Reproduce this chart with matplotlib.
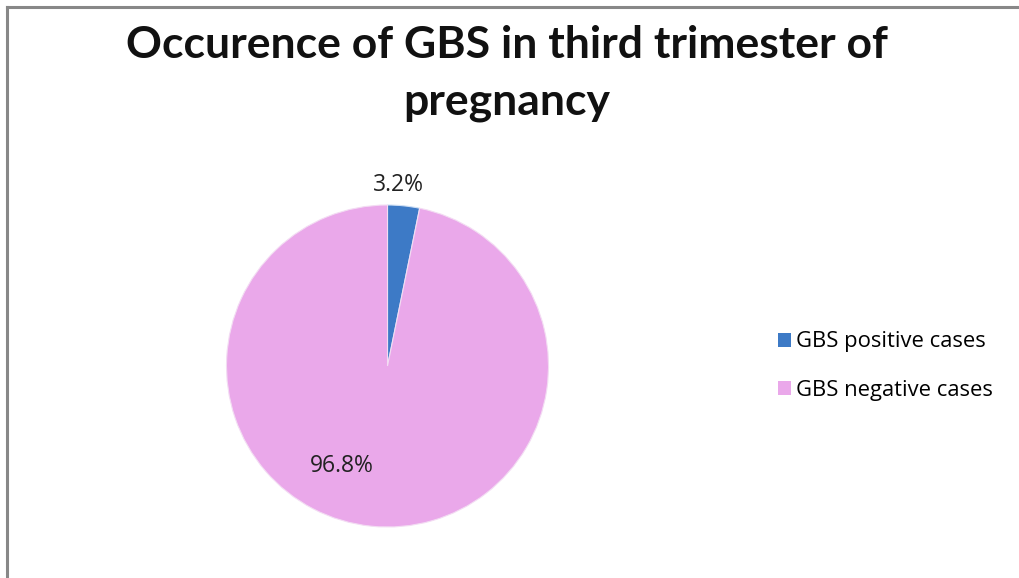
import matplotlib
matplotlib.use("Agg")
import matplotlib.pyplot as plt
from matplotlib.lines import Line2D
from matplotlib.patches import Patch
import numpy as np

# data
labels = ["GBS positive cases", "GBS negative cases"]
values = [3.2, 96.8]
pct_text = ["3.2%", "96.8%"]
colors = ["#3D7AC6", "#EAA8EA"]
title_lines = ["Occurence of GBS in third trimester of", "pregnancy"]

W, H = 1020, 578
fig = plt.figure(figsize=(W / 100, H / 100), dpi=100)
fig.patch.set_facecolor("white")

# chart frame (only top and left edge visible)
fig.add_artist(Line2D([7 / W, 7 / W], [0, 1 - 7 / H], color="#888888", lw=2.2))
fig.add_artist(Line2D([7 / W, 1], [1 - 7 / H, 1 - 7 / H], color="#888888", lw=2.2))

# title, two lines placed on their baselines
for line, base in zip(title_lines, [58, 114]):
    fig.text(507 / W, 1 - base / H, line, ha="center", va="baseline",
             fontsize=32, fontweight="bold", family="Lato", color="#111111")

# pie area
cx, cy, r = 387.5, 366, 161
ax = fig.add_axes([(cx - r) / W, 1 - (cy + r) / H, 2 * r / W, 2 * r / H])
wedges, _ = ax.pie(values, colors=colors, startangle=90, counterclock=False,
                   radius=1.0, wedgeprops=dict(edgecolor="#f3dcf3", linewidth=0.8))
wedges[0].set_edgecolor("#cfe0f5")
ax.set_xlim(-1, 1)
ax.set_ylim(-1, 1)
ax.set_aspect("auto")
ax.axis("off")

# label placement: (angle in degrees, radius)
label_pos = [(86.5, 1.125), (-114.5, 0.68)]
for txt, (ang, rad) in zip(pct_text, label_pos):
    a = np.deg2rad(ang)
    ax.text(rad * np.cos(a), rad * np.sin(a), txt, ha="center", va="center",
            fontsize=16.5, family="Open Sans", color="#222222")

handles = [Patch(facecolor=c, edgecolor="none") for c in colors]
fig.legend(handles, labels, loc="center left", bbox_to_anchor=(778 / W, 1 - 366 / H),
           frameon=False, prop=dict(family="Open Sans", size=15.8),
           borderpad=0, borderaxespad=0,
           handlelength=0.6, handleheight=0.6, handletextpad=0.2, labelspacing=1.25)

fig.savefig("out.png", dpi=100)
